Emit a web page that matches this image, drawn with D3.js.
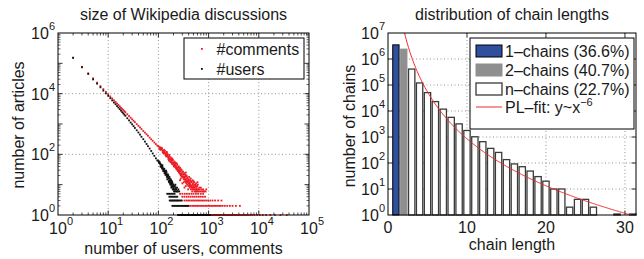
<!DOCTYPE html>
<html><head><meta charset="utf-8">
<script src="https://cdn.jsdelivr.net/npm/d3@7"></script>
<style>
body { margin: 0; background: #fff; }
svg text { font-family: "Liberation Sans", Arial, Helvetica, sans-serif; fill: #1a1a1a; }
</style></head><body>
<svg id="chart" width="644" height="259"></svg>
<script>
// ---- left panel data: number of articles with a given size ----
var commentsTrend = [[2,155000],[3,77000],[4,47000],[5,32000],[6,23100],[7,17700],[8,14100],[9,11500],[10,9550],
  [11,8110],[12,6970],[13,6070],[14,5340],[15,4730],[16,4240],[17,3810],[18,3450],[19,3140],[20,2880],[21,2650],
  [22,2440],[24,2100],[26,1830],[28,1610],[30,1430],[32,1280],[34,1150],[37,990],[40,870],[43,770],[46,680],
  [50,590],[54,520],[58,460],[62,410],[67,356],[72,314],[77,280],[83,245],[89,218],[95,194]];
var commentsScatter = [[100,185],[104,170],[108,168],[112,150],[116,148],[120,135],[124,125],[128,122],[132,112],
  [136,110],[140,100],[145,96],[150,90],[155,82],[160,80],[165,72],[170,70],[175,66],[180,60],[186,62],[192,54],
  [198,52],[205,48],[212,44],[219,42],[226,40],[234,36],[242,35],[250,31],[258,30],[266,27],[275,28],[284,24],
  [294,22],[304,22],[314,19],[325,18],[336,17],[348,15],[360,14],[372,13],[385,12],[398,11],[412,10],[426,9],
  [441,9],[456,8],[472,8],[488,7],[505,7],[523,6],[541,6],[560,6],[580,6],[600,6],
  [110,140],[118,160],[125,110],[135,130],[142,85],[148,110],[158,70],[163,95],[172,58],[178,78],[185,52],
  [190,72],[200,44],[208,58],[215,38],[222,52],[230,32],[238,45],[245,28],[255,40],[262,24],[270,36],[280,20],
  [290,30],[300,18],[310,27],[320,15],[330,24],[340,13],[345,21],[355,12],[365,19],[375,10],[380,17],[395,9],
  [405,15],[420,8],[430,14],[445,7],[460,12],[470,6],[490,11],[510,9],[530,8],[550,10],[570,7],[590,9],[620,7],
  [650,8],[680,6],[720,7],[760,6],[800,6],[270,14],[300,11],[350,9],[420,12],[500,13],[390,7],[330,8],
  [105,150],[113,165],[122,118],[130,140],[138,95],[147,120],[153,100],[162,62],[168,85],[176,55],[183,70],
  [188,48],[195,65],[203,40],[210,55],[217,47],[224,35],[232,50],[240,30],[248,38],[256,26],[264,34],[272,22],
  [282,32],[292,19],[302,26],[312,17],[322,22],[334,15],[344,19],[352,25],[362,11],[370,16],[388,14],[400,13],
  [410,18],[425,11],[438,10],[450,13],[465,9],[480,10],[495,8],[515,12],[535,7],[555,9],[575,8],[595,7],
  [610,10],[640,6],[660,7],[700,8],[740,6],[780,7],[830,6],[870,6],[900,7],[280,16],[320,12],[360,20],
  [440,16],[480,14],[520,10],[560,11],[600,12]];
var commentsAt5 = [270,300,335,370,410,455,500,560,620,700,780];
var commentsAt4 = [300,330,365,400,440,485,530,580,640,700,770,850];
var commentsAt3 = [330,360,390,420,455,490,530,570,615,660,710,770,830,900,980,1080,1200,1350,1550,1800];
var commentsAt2 = [340,380,430,470,510,550,590,640,690,740,800,860,920,990,1060,1140,1220,1310,1400,1500,1620,
  1750,1900,2100,2350,2650,3000,3500,4200];
var commentsAt1 = [280,330,400,480,560,650,760,880,1000,1100,1150,1210,1270,1330,1400,1470,1540,1620,1700,1790,
  1880,1980,2080,2190,2300,2420,2550,2680,2820,2980,3150,3320,3500,3700,3950,4200,4500,4850,5200,5600,6100,
  6700,7400,8200,9300,10500,12000,14000,17000,21000,27000,36000];

var usersTrend = [[2,151000],[3,74000],[4,44700],[5,29500],[6,21400],[7,16200],[8,12600],[9,10200],[10,8500],
  [11,7100],[12,6000],[13,5100],[14,4500],[15,3900],[16,3470],[17,3090],[18,2750],[19,2450],[20,2240],[21,2040],
  [22,1860],[24,1550],[26,1320],[28,1120],[30,980],[32,850],[34,740],[37,620],[40,525],[43,447],[46,380],
  [50,316],[54,263],[58,219],[62,186],[67,155],[72,129],[77,107],[83,89],[89,74],[95,63]];
var usersScatter = [[100,60],[103,52],[106,55],[109,48],[112,46],[115,42],[118,40],[121,38],[124,33],[127,34],
  [130,30],[133,28],[136,27],[140,24],[144,22],[148,20],[152,19],[156,17],[160,16],[165,14],[170,13],[175,12],
  [180,11],[185,10],[190,9],[196,8],[202,8],[208,7],[215,7],[222,6],[230,6],[238,6],[110,40],[118,34],[125,28],
  [132,24],[138,21],[145,26],[150,15],[158,20],[163,12],[168,16],[173,10],[178,14],[183,9],[188,12],[193,7],
  [200,10],[205,6],[212,9],[220,8],[228,7],[245,6],
  [102,58],[107,50],[114,38],[120,44],[126,30],[131,33],[137,24],[142,29],[147,18],[154,22],[161,13],[166,18],
  [171,11],[176,15],[181,8],[186,13],[192,11],[198,7],[203,9],[210,6],[218,10],[225,7],[235,8],[250,7],[260,6]];
var usersAt5 = [150,160,170,182,195,210];
var usersAt4 = [165,175,186,198,210,224,238];
var usersAt3 = [168,176,185,194,204,214,225,236,248,262,276,292];
var usersAt2 = [190,200,212,224,236,249,262,276,291,306,322,340,358,376,395];
var usersAt1 = [246,258,270,283,296,310,325,340,356,372,390,408,427,447,468,490,513,537,562,590,615,645,675,
  707,740,775,812,850,890,930,975,1020,1067];

// ---- right panel data: chain length histogram ----
var chainLengths = [1,2,3,4,5,6,7,8,9,10,11,12,13,14,15,16,17,18,19,20,21,22,23,24,25,26,29,31];
var chainCounts = [3500000,2400000,410000,120000,51000,23000,11800,5700,3200,1780,1020,660,365,255,135,92,72,49,
  30,20,10,10,2,4,4,2,1,1];
var legendLabels = ['1\u2013chains (36.6%)', '2\u2013chains (40.7%)', 'n\u2013chains (22.7%)'];
var fitExponent = -6;
var fitCoef = 8.5e8;

var svg = d3.select('#chart');
var red = '#ec1c24', blue = '#2f4f9f', gray = '#8f8f8f';

function expand(xs, n) { return xs.map(x => [x, n]); }

function superLabel(g, x, y, anchor, exp) {
    var t = g.append('text').attr('x', x).attr('y', y).attr('text-anchor', anchor)
        .style('font-size', '16px');
    t.append('tspan').text('10');
    t.append('tspan').attr('dy', -9).style('font-size', '11px').text(exp);
}

// ================= left panel =================
var x = d3.scaleLog().domain([1, 1e5]).range([58, 309]);
var y = d3.scaleLog().domain([1, 1e6]).range([215, 33]);
var left = svg.append('g');

// grid
left.selectAll('.gx').data([10, 100, 1000, 10000]).enter().append('line')
    .attr('x1', d => x(d)).attr('x2', d => x(d)).attr('y1', 33).attr('y2', 215)
    .attr('stroke', '#777').attr('stroke-width', 0.8).attr('stroke-dasharray', '1,2.5');
left.selectAll('.gy').data([100, 10000]).enter().append('line')
    .attr('x1', 58).attr('x2', 309).attr('y1', d => y(d)).attr('y2', d => y(d))
    .attr('stroke', '#777').attr('stroke-width', 0.8).attr('stroke-dasharray', '1,2.5');

// minor / major ticks on log x
var xMinor = [];
for (var k = 0; k < 5; k++) for (var m = 2; m <= 9; m++) xMinor.push(m * Math.pow(10, k));
left.selectAll('.mx').data(xMinor).enter().append('path')
    .attr('d', d => `M${x(d)},215v-2.5M${x(d)},33v2.5`).attr('stroke', '#000').attr('stroke-width', 0.7);
left.selectAll('.tx').data([10, 100, 1000, 10000]).enter().append('path')
    .attr('d', d => `M${x(d)},215v-4.5M${x(d)},33v4.5`).attr('stroke', '#000').attr('stroke-width', 0.8);
var yMinorL = [];
for (var k = 0; k < 6; k++) for (var m = 2; m <= 9; m++) yMinorL.push(m * Math.pow(10, k));
left.selectAll('.my').data(yMinorL).enter().append('path')
    .attr('d', d => `M58,${y(d)}h2.5M309,${y(d)}h-2.5`).attr('stroke', '#000').attr('stroke-width', 0.6);
left.selectAll('.ty').data([10, 100, 1000, 1e4, 1e5]).enter().append('path')
    .attr('d', d => `M58,${y(d)}h4.5M309,${y(d)}h-4.5`).attr('stroke', '#000').attr('stroke-width', 0.8);

// scatter: comments (red) first, users (black) on top
var commentsPts = commentsTrend.concat(commentsScatter, expand(commentsAt5, 5), expand(commentsAt4, 4),
    expand(commentsAt3, 3), expand(commentsAt2, 2), expand(commentsAt1, 1));
var usersPts = usersTrend.concat(usersScatter, expand(usersAt5, 5), expand(usersAt4, 4),
    expand(usersAt3, 3), expand(usersAt2, 2), expand(usersAt1, 1));

left.append('g').selectAll('rect').data(commentsPts).enter().append('rect')
    .attr('x', d => x(d[0]) - 0.9).attr('y', d => y(d[1]) - 0.9)
    .attr('width', 1.8).attr('height', 1.8).attr('fill', red);
left.append('g').selectAll('rect').data(usersPts).enter().append('rect')
    .attr('x', d => x(d[0]) - 0.9).attr('y', d => y(d[1]) - 0.9)
    .attr('width', 1.8).attr('height', 1.8).attr('fill', '#111');

left.append('rect').attr('x', 58).attr('y', 33).attr('width', 251).attr('height', 182)
    .attr('fill', 'none').attr('stroke', '#000').attr('stroke-width', 1);

// tick labels
[0, 1, 2, 3, 4, 5].forEach(e => superLabel(left, x(Math.pow(10, e)) - 8.9, 233.5, 'start', e));
[0, 2, 4, 6].forEach(e => superLabel(left, 55, y(Math.pow(10, e)) + 6, 'end', e));

// legend
var legL = left.append('g');
legL.append('rect').attr('x', 184).attr('y', 38).attr('width', 120).attr('height', 41)
    .attr('fill', '#fff').attr('stroke', '#000').attr('stroke-width', 1);
[['#comments', red], ['#users', '#111']].forEach((d, i) => {
    legL.append('rect').attr('x', 201).attr('y', 48 + i * 20).attr('width', 1.8).attr('height', 1.8).attr('fill', d[1]);
    legL.append('text').attr('x', 216.5).attr('y', 54.5 + i * 20).style('font-size', '16px').text(d[0]);
});

left.append('text').attr('x', 183.5).attr('y', 20).attr('text-anchor', 'middle').style('font-size', '16px')
    .text('size of Wikipedia discussions');
left.append('text').attr('x', 183.5).attr('y', 254).attr('text-anchor', 'middle').style('font-size', '16px')
    .text('number of users, comments');
left.append('text').attr('transform', 'translate(24,125) rotate(-90)').attr('text-anchor', 'middle')
    .style('font-size', '16px').text('number of articles');

// ================= right panel =================
var xr = d3.scaleLinear().domain([0, 31.4]).range([388, 636]);
var yr = d3.scaleLog().domain([1, 1e7]).range([215, 33]);
var right = svg.append('g');

right.selectAll('.gx').data([10, 20, 30]).enter().append('line')
    .attr('x1', d => xr(d)).attr('x2', d => xr(d)).attr('y1', 33).attr('y2', 215)
    .attr('stroke', '#777').attr('stroke-width', 0.8).attr('stroke-dasharray', '1,2.5');
right.selectAll('.gy').data([10, 100, 1e3, 1e4, 1e5, 1e6]).enter().append('line')
    .attr('x1', 388).attr('x2', 636).attr('y1', d => yr(d)).attr('y2', d => yr(d))
    .attr('stroke', '#777').attr('stroke-width', 0.8).attr('stroke-dasharray', '1,2.5');

right.selectAll('.tx').data([10, 20, 30]).enter().append('path')
    .attr('d', d => `M${xr(d)},215v-4.5M${xr(d)},33v4.5`).attr('stroke', '#000').attr('stroke-width', 0.8);
right.selectAll('.ty').data([10, 100, 1e3, 1e4, 1e5, 1e6]).enter().append('path')
    .attr('d', d => `M388,${yr(d)}h4.5M636,${yr(d)}h-4.5`).attr('stroke', '#000').attr('stroke-width', 0.8);

// bars
var bars = chainLengths.map((len, i) => ({ len: len, n: chainCounts[i] }));
function barFill(d) { return d.len === 1 ? blue : d.len === 2 ? gray : '#fff'; }
function barStroke(d) { return d.len === 1 ? '#000' : d.len === 2 ? gray : '#3a3a3a'; }
right.append('g').selectAll('rect').data(bars).enter().append('rect')
    .attr('x', d => xr(d.len - 0.4)).attr('width', xr(0.8) - xr(0))
    .attr('y', d => Math.min(yr(d.n), 214)).attr('height', d => Math.max(1, yr(1) - yr(d.n)))
    .attr('fill', barFill).attr('stroke', barStroke).attr('stroke-width', d => d.len > 2 ? 1.3 : 1);

// power-law fit, clipped to the axes
right.append('clipPath').attr('id', 'clipR').append('rect')
    .attr('x', 388).attr('y', 33).attr('width', 248).attr('height', 182);
var fitX = d3.range(1.8, 31.4, 0.1);
right.append('path').datum(fitX).attr('clip-path', 'url(#clipR)')
    .attr('d', d3.line().x(d => xr(d)).y(d => yr(fitCoef * Math.pow(d, fitExponent))))
    .attr('fill', 'none').attr('stroke', '#f0282d').attr('stroke-width', 1);

right.append('rect').attr('x', 388).attr('y', 33).attr('width', 248).attr('height', 182)
    .attr('fill', 'none').attr('stroke', '#000').attr('stroke-width', 1);

[0, 10, 20, 30].forEach(v => right.append('text').attr('x', xr(v)).attr('y', 233)
    .attr('text-anchor', 'middle').style('font-size', '16px').text(v));
d3.range(0, 8).forEach(e => superLabel(right, 385, yr(Math.pow(10, e)) + 6, 'end', e));

// legend
var legR = right.append('g');
legR.append('rect').attr('x', 470).attr('y', 38).attr('width', 164).attr('height', 91)
    .attr('fill', '#fff').attr('stroke', '#000').attr('stroke-width', 1);
legendLabels.forEach((lab, i) => {
    var d = { len: i + 1 };
    legR.append('rect').attr('x', 476).attr('y', 45 + i * 19).attr('width', 26).attr('height', 12)
        .attr('fill', barFill(d)).attr('stroke', barStroke(d)).attr('stroke-width', i === 2 ? 1.3 : 1);
    legR.append('text').attr('x', 505).attr('y', 56.5 + i * 19).style('font-size', '16px').text(lab);
});
legR.append('line').attr('x1', 476).attr('x2', 502).attr('y1', 107).attr('y2', 107)
    .attr('stroke', '#f0282d').attr('stroke-width', 1);
var fitLab = legR.append('text').attr('x', 505).attr('y', 113).style('font-size', '16px');
fitLab.append('tspan').text('PL\u2013fit: y~x');
fitLab.append('tspan').attr('dy', -7).style('font-size', '11px').text('\u2212' + Math.abs(fitExponent));

right.append('text').attr('x', 512).attr('y', 20).attr('text-anchor', 'middle').style('font-size', '16px')
    .text('distribution of chain lengths');
right.append('text').attr('x', 512).attr('y', 250).attr('text-anchor', 'middle').style('font-size', '16px')
    .text('chain length');
right.append('text').attr('transform', 'translate(355,126) rotate(-90)').attr('text-anchor', 'middle')
    .style('font-size', '16px').text('number of chains');
</script>
</body></html>
